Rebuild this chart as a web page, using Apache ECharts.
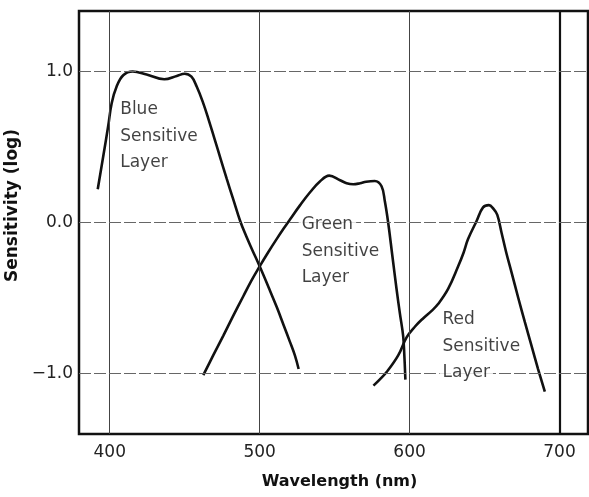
<!DOCTYPE html>
<html>
<head>
<meta charset="utf-8">
<script src="https://cdn.jsdelivr.net/npm/echarts@6/dist/echarts.min.js"></script>
<style>
  html, body { margin: 0; padding: 0; background: #fff; }
  #chart { width: 589px; height: 497px; }
</style>
</head>
<body>
<div id="chart"></div>
<script>
// tick values
const wavelengthTicks = [400, 500, 600, 700]
const sensitivityTicks = [-1, 0, 1]

// blue sensitive layer
const blueNm = [392, 395.7, 399, 401.3, 404.6, 409, 415.3, 424.6, 436.4, 444.7, 450, 454.5, 458, 462, 466, 470, 474, 478, 482.5, 487, 491, 495, 500, 506, 511.4, 516, 520.2, 523.5, 526]
const blueLog = [0.22, 0.44, 0.64, 0.79, 0.9, 0.975, 1.0, 0.98, 0.948, 0.97, 0.985, 0.965, 0.9, 0.8, 0.68, 0.55, 0.42, 0.29, 0.15, 0.01, -0.09, -0.18, -0.29, -0.43, -0.56, -0.68, -0.79, -0.88, -0.97]

// green sensitive layer
const greenNm = [462.4, 469, 475.7, 482, 489, 494.5, 500, 505.5, 511.3, 516, 520.2, 527, 533.6, 540, 546.4, 553.6, 558, 562.4, 567, 571, 576.8, 581.3, 583.5, 585.7, 588.5, 591.3, 593.5, 595.7, 596.5, 597.2]
const greenLog = [-1.01, -0.88, -0.75, -0.625, -0.49, -0.385, -0.29, -0.2, -0.11, -0.04, 0.02, 0.115, 0.2, 0.27, 0.31, 0.28, 0.26, 0.253, 0.26, 0.27, 0.275, 0.24, 0.14, 0.0, -0.22, -0.44, -0.6, -0.75, -0.88, -1.04]

// red sensitive layer
const redNm = [575.9, 580, 584.7, 592.4, 598, 603.5, 609, 614.7, 619, 625.7, 632.4, 636, 639, 644.7, 649, 652.9, 656, 658.5, 661.3, 664.5, 668, 672.5, 676.9, 681.3, 685.7, 690.2]
const redLog = [-1.08, -1.04, -0.99, -0.88, -0.76, -0.69, -0.635, -0.585, -0.54, -0.44, -0.29, -0.2, -0.11, 0.01, 0.1, 0.115, 0.09, 0.05, -0.066, -0.2, -0.33, -0.5, -0.66, -0.815, -0.97, -1.12]

// curve annotations
const layerNames = ['Blue', 'Green', 'Red']
const labelNm = [405, 526, 620]
const labelLog = [0.57, -0.19, -0.82]

const zip = (xs, ys) => xs.map((x, i) => [x, ys[i]])

const tickFont = { fontFamily: 'DejaVu Sans', fontSize: 17, color: '#222' }
const titleFont = { fontFamily: 'DejaVu Sans', fontWeight: 'bold', color: '#111' }

const curve = (name, data) => ({
  name,
  type: 'line',
  data,
  smooth: 0.4,
  showSymbol: false,
  z: 3,
  lineStyle: { color: '#111', width: 2.6 }
})

const chart = echarts.init(document.getElementById('chart'))
chart.setOption({
  animation: false,
  grid: {
    left: 79, right: 1, top: 11, bottom: 63,
    outerBoundsMode: 'none',
    containLabel: false,
    show: true, borderColor: '#111', borderWidth: 2.5
  },
  xAxis: {
    type: 'value',
    min: 379.5,
    max: 719,
    name: 'Wavelength (nm)',
    nameLocation: 'middle',
    nameGap: 40,
    nameTextStyle: { ...titleFont, fontSize: 16, padding: [0, 0, 0, 12] },
    axisLine: { show: false },
    axisTick: { show: false },
    splitLine: { show: false },
    axisLabel: { ...tickFont, margin: 10, customValues: wavelengthTicks }
  },
  yAxis: {
    type: 'value',
    min: -1.4,
    max: 1.4,
    name: 'Sensitivity (log)',
    nameLocation: 'middle',
    nameGap: 46,
    nameTextStyle: { ...titleFont, fontSize: 17, padding: [0, 0, 0, 34] },
    axisLine: { show: false },
    axisTick: { show: false },
    splitLine: { show: false },
    axisLabel: {
      ...tickFont,
      margin: 6,
      customValues: sensitivityTicks,
      formatter: v => (v < 0 ? '\u2212' : '') + Math.abs(v).toFixed(1)
    }
  },
  series: [
    {
      type: 'line',
      data: [],
      z: 1,
      silent: true,
      markLine: {
        silent: true,
        symbol: 'none',
        label: { show: false },
        data: [
          ...wavelengthTicks.map(v => ({
            xAxis: v,
            lineStyle: v === 700
              ? { color: '#111', width: 2.2, type: 'solid' }
              : { color: '#444', width: 1, type: 'solid' }
          })),
          ...sensitivityTicks.map(v => ({
            yAxis: v,
            lineStyle: { color: '#666', width: 1, type: [12, 3] }
          }))
        ]
      }
    },
    curve('Blue', zip(blueNm, blueLog)),
    curve('Green', zip(greenNm, greenLog)),
    curve('Red', zip(redNm, redLog)),
    {
      type: 'scatter',
      symbolSize: 0,
      z: 5,
      silent: true,
      data: layerNames.map((n, i) => ({ name: n, value: [labelNm[i], labelLog[i]] })),
      label: {
        show: true,
        position: [0, 0],
        align: 'left',
        verticalAlign: 'middle',
        fontFamily: 'DejaVu Sans',
        fontSize: 17,
        lineHeight: 26.5,
        color: '#111',
        formatter: p => ['{w|' + p.name + '}', '{w|Sensitive}', '{w|Layer}'].join('\n'),
        rich: {
          w: {
            fontFamily: 'DejaVu Sans',
            fontSize: 17,
            lineHeight: 26.5,
            color: '#111',
            backgroundColor: '#fff',
            padding: [0, 3, 0, 3]
          }
        }
      }
    }
  ]
})
</script>
</body>
</html>
